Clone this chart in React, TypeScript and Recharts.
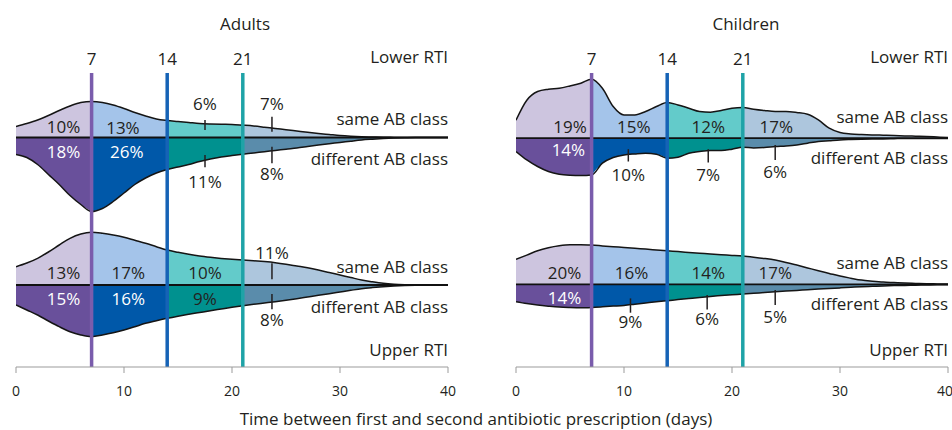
import React from "react";
import {
  ComposedChart,
  Area,
  Line,
  XAxis,
  YAxis,
  ReferenceLine,
  ReferenceDot,
} from "recharts";

// days since first prescription
const days = [
  0, 1, 2, 3, 4, 5, 6, 7, 8, 9, 10, 11, 12, 13, 14, 15, 16, 17, 18, 19, 20,
  21, 22, 23, 24, 25, 26, 27, 28, 29, 30, 31, 32, 33, 34, 35, 36, 37, 38, 39, 40,
];
const xTicks = [0, 10, 20, 30, 40];
const cutoffs = [7, 14, 21];

// density (violin half heights)
const adultsLowerSame = [
  11, 14, 17.5, 22, 27, 31.5, 35, 36, 35, 32.5, 29, 25, 21.5, 18.5, 17, 16, 15,
  14, 13.5, 13.2, 13, 12.3, 11.5, 10.3, 9, 7.8, 6.5, 5.2, 4, 3, 2, 1.3, 0.8,
  0.5, 0.2, 0.1, 0, 0, 0, 0, 0,
];
const adultsLowerDiff = [
  17, 20, 27, 37, 47, 58, 67, 74, 71, 64, 55.5, 47, 40.5, 35.5, 32, 29.5, 27,
  24, 21.5, 19.5, 18, 16.7, 15.5, 14.2, 13, 11.7, 10.5, 9, 7.5, 6.2, 5, 3.7,
  2.5, 1.7, 1, 0.5, 0.2, 0, 0, 0, 0,
];
const adultsUpperSame = [
  18.3, 22, 26.7, 33, 40, 46.7, 51, 52.7, 51.7, 50, 47.7, 44.7, 41.7, 38.3, 35,
  32.7, 30.7, 29, 27.7, 26.6, 25.7, 25, 24.3, 23.4, 22.3, 20.8, 19, 17.2, 15,
  12.5, 10, 7.5, 5, 3.2, 1.7, 0.8, 0.3, 0, 0, 0, 0,
];
const adultsUpperDiff = [
  20, 25, 30, 36, 41.7, 46.7, 50, 51.7, 50, 47.8, 45, 41.7, 38.3, 35.7, 33.3,
  31.2, 29.3, 27.5, 25.7, 24, 22.3, 20.8, 19.3, 18, 16.7, 15.2, 13.7, 12, 10.3,
  8.7, 7, 5.3, 3.7, 2.6, 1.7, 1, 0.5, 0.2, 0, 0, 0,
];
const childrenLowerSame = [
  18, 38, 46.7, 49, 50, 52.3, 55, 59, 50, 31.7, 23.3, 23.3, 26.7, 31.7, 35.7,
  33.3, 30, 26.7, 26, 27.7, 30, 30.7, 29, 27.7, 26.7, 26.7, 25.7, 24, 18.3, 10,
  5.7, 4.3, 3.7, 3.3, 3, 2.7, 2.3, 2, 1.7, 1.2, 0.7,
];
const childrenLowerDiff = [
  13.3, 21.7, 28.3, 33.3, 36, 37, 37.3, 36.7, 25, 19.3, 16.7, 15.7, 15, 16, 20,
  19, 15, 13.3, 12.3, 12.3, 11, 9, 9.7, 9.3, 8.3, 7.7, 6.7, 5, 3.3, 2.5, 1.7,
  1.3, 1, 0.8, 0.7, 0.5, 0.3, 0.3, 0.3, 0.3, 0.3,
];
const childrenUpperSame = [
  25, 29.3, 33.7, 36.7, 38.7, 39.7, 39.7, 39.3, 38.5, 37.7, 37, 36.2, 35.3,
  34.5, 33.7, 32.8, 32, 31.2, 30.3, 29.6, 29, 28.3, 27.2, 25.9, 24.3, 22, 19.3,
  16.5, 13.7, 11, 8.3, 6.2, 4.3, 3.2, 2.3, 1.8, 1.3, 1, 0.7, 0.5, 0.3,
];
const childrenUpperDiff = [
  17.3, 19.2, 20.7, 21.8, 22.7, 23.1, 23.3, 23, 22.4, 21.7, 21, 19.8, 18.6,
  17.4, 16.3, 15.2, 14.1, 13, 12, 11.2, 10.4, 9.7, 8.9, 8.1, 7.3, 6.6, 6, 5.3,
  4.7, 4.1, 3.5, 2.9, 2.3, 1.9, 1.5, 1.2, 1, 0.8, 0.6, 0.4, 0.3,
];

// share of prescriptions per window (0-7, 7-14, 14-21, >21)
const adultsLowerSamePct = ["10%", "13%", "6%", "7%"];
const adultsLowerDiffPct = ["18%", "26%", "11%", "8%"];
const adultsUpperSamePct = ["13%", "17%", "10%", "11%"];
const adultsUpperDiffPct = ["15%", "16%", "9%", "8%"];
const childrenLowerSamePct = ["19%", "15%", "12%", "17%"];
const childrenLowerDiffPct = ["14%", "10%", "7%", "6%"];
const childrenUpperSamePct = ["20%", "16%", "14%", "17%"];
const childrenUpperDiffPct = ["14%", "9%", "6%", "5%"];

const FONT = "'Open Sans', 'Noto Sans', sans-serif";
const INK = "#231f20";
const SEGMENTS: [number, number][] = [
  [0, 7],
  [7, 14],
  [14, 21],
  [21, 40],
];
const sameFills = ["#cdc5df", "#a4c4ea", "#63cbca", "#adc6dd"];
const diffFills = ["#69509b", "#0058a9", "#00918f", "#5a8cab"];
const cutoffColors = ["#7a5cac", "#1663b6", "#1fa3a7"];

type Spot = { x: number; dy: number; tick?: [number, number]; white?: boolean };

type Violin = {
  same: number[];
  diff: number[];
  base: number;
  samePct: string[];
  diffPct: string[];
  sameSpots: Spot[];
  diffSpots: Spot[];
  sideSame: number;
  sideDiff: number;
};

const W = 476;
const H = 430;
const PLOT_H = 294;

function buildRows(violins: Violin[]) {
  return days.map((d, i) => {
    const row: Record<string, any> = { day: d };
    violins.forEach((v, vi) => {
      SEGMENTS.forEach(([a, b], k) => {
        const inside = d >= a && d <= b;
        row[`s${vi}_${k}`] = inside ? [v.base, v.base + v.same[i]] : null;
        row[`d${vi}_${k}`] = inside ? [v.base - v.diff[i], v.base] : null;
      });
      row[`top${vi}`] = v.base + v.same[i];
      row[`bot${vi}`] = v.base - v.diff[i];
    });
    return row;
  });
}

function pctLabel(key: string, x: number, y: number, text: string, color: string) {
  return (
    <ReferenceDot
      key={key}
      x={x}
      y={y}
      r={0}
      fill="none"
      stroke="none"
      label={{ value: text, position: "center", fill: color, fontSize: 17, fontFamily: FONT }}
    />
  );
}

function Panel({ violins, margin }: { violins: Violin[]; margin: any }) {
  const rows = buildRows(violins);
  const areas: React.ReactNode[] = [];
  const outlines: React.ReactNode[] = [];
  const notes: React.ReactNode[] = [];

  violins.forEach((v, vi) => {
    SEGMENTS.forEach((_, k) => {
      areas.push(
        <Area
          key={`s${vi}_${k}`}
          dataKey={`s${vi}_${k}`}
          type="monotone"
          fill={sameFills[k]}
          fillOpacity={1}
          stroke="none"
          isAnimationActive={false}
          activeDot={false}
        />,
        <Area
          key={`d${vi}_${k}`}
          dataKey={`d${vi}_${k}`}
          type="monotone"
          fill={diffFills[k]}
          fillOpacity={1}
          stroke="none"
          isAnimationActive={false}
          activeDot={false}
        />
      );
    });
    outlines.push(
      <Line
        key={`top${vi}`}
        dataKey={`top${vi}`}
        type="monotone"
        stroke="#151515"
        strokeWidth={1.5}
        dot={false}
        activeDot={false}
        isAnimationActive={false}
      />,
      <Line
        key={`bot${vi}`}
        dataKey={`bot${vi}`}
        type="monotone"
        stroke="#151515"
        strokeWidth={1.5}
        dot={false}
        activeDot={false}
        isAnimationActive={false}
      />,
      <ReferenceLine key={`mid${vi}`} y={v.base} stroke="#111" strokeWidth={1.8} />
    );

    const addNotes = (spots: Spot[], pct: string[], tag: string) => {
      spots.forEach((s, k) => {
        if (s.tick) {
          notes.push(
            <ReferenceLine
              key={`t${tag}${vi}_${k}`}
              segment={[
                { x: s.x, y: v.base + s.tick[0] },
                { x: s.x, y: v.base + s.tick[1] },
              ]}
              stroke={INK}
              strokeWidth={1.5}
            />
          );
        }
        notes.push(
          pctLabel(`p${tag}${vi}_${k}`, s.x, v.base + s.dy, pct[k], s.white ? "#ffffff" : INK)
        );
      });
    };
    addNotes(v.sameSpots, v.samePct, "s");
    addNotes(v.diffSpots, v.diffPct, "d");

    notes.push(
      <ReferenceDot
        key={`side_s${vi}`}
        x={40}
        y={v.base + v.sideSame}
        r={0}
        fill="none"
        stroke="none"
        label={{ value: "same AB class", position: "left", offset: 0, fill: INK, fontSize: 17, fontFamily: FONT }}
      />,
      <ReferenceDot
        key={`side_d${vi}`}
        x={40}
        y={v.base + v.sideDiff}
        r={0}
        fill="none"
        stroke="none"
        label={{ value: "different AB class", position: "left", offset: 0, fill: INK, fontSize: 17, fontFamily: FONT }}
      />
    );
  });

  return (
    <ComposedChart width={W} height={H} data={rows} margin={margin}>
      <XAxis
        dataKey="day"
        type="number"
        domain={[0, 40]}
        ticks={xTicks}
        tickSize={6}
        tickMargin={13}
        height={30}
        stroke="#9b9b9b"
        tick={{ fontSize: 14, fill: INK, fontFamily: FONT }}
        allowDataOverflow
      />
      <YAxis type="number" domain={[0, PLOT_H]} hide allowDataOverflow />
      {areas}
      {outlines}
      {cutoffs.map((c, i) => (
        <ReferenceLine
          key={`c${c}`}
          x={c}
          stroke={cutoffColors[i]}
          strokeWidth={3.5}
          label={{ value: String(c), position: "top", offset: 8, fill: INK, fontSize: 17, fontFamily: FONT }}
        />
      ))}
      {notes}
    </ComposedChart>
  );
}

const adults: Violin[] = [
  {
    same: adultsLowerSame,
    diff: adultsLowerDiff,
    base: 229.5,
    samePct: adultsLowerSamePct,
    diffPct: adultsLowerDiffPct,
    sameSpots: [
      { x: 4.4, dy: 10.8 },
      { x: 9.9, dy: 10 },
      { x: 17.5, dy: 34, tick: [7.5, 17.5] },
      { x: 23.7, dy: 34, tick: [5.8, 20.8] },
    ],
    diffSpots: [
      { x: 4.4, dy: -14, white: true },
      { x: 10.25, dy: -14, white: true },
      { x: 17.5, dy: -44, tick: [-17.5, -29.8] },
      { x: 23.7, dy: -36.5, tick: [-9.2, -25.8] },
    ],
    sideSame: 18.5,
    sideDiff: -21.5,
  },
  {
    same: adultsUpperSame,
    diff: adultsUpperDiff,
    base: 82,
    samePct: adultsUpperSamePct,
    diffPct: adultsUpperDiffPct,
    sameSpots: [
      { x: 4.4, dy: 12.3 },
      { x: 10.4, dy: 12.3 },
      { x: 17.5, dy: 12.3 },
      { x: 23.7, dy: 31.7, tick: [5.7, 21.7] },
    ],
    diffSpots: [
      { x: 4.4, dy: -14.3, white: true },
      { x: 10.4, dy: -14.3, white: true },
      { x: 17.5, dy: -14.3 },
      { x: 23.7, dy: -35, tick: [-9, -24.3] },
    ],
    sideSame: 18.3,
    sideDiff: -22.3,
  },
];

const children: Violin[] = [
  {
    same: childrenLowerSame,
    diff: childrenLowerDiff,
    base: 228.8,
    samePct: childrenLowerSamePct,
    diffPct: childrenLowerDiffPct,
    sameSpots: [
      { x: 5.0, dy: 11.7 },
      { x: 10.9, dy: 11.7 },
      { x: 17.8, dy: 11.7 },
      { x: 24.1, dy: 11.7 },
    ],
    diffSpots: [
      { x: 4.85, dy: -11.7, white: true },
      { x: 10.4, dy: -36.7, tick: [-11, -23.3] },
      { x: 17.8, dy: -36.7, tick: [-11, -24.3] },
      { x: 24, dy: -33.3, tick: [-6.7, -21.7] },
    ],
    sideSame: 21,
    sideDiff: -19.4,
  },
  {
    same: childrenUpperSame,
    diff: childrenUpperDiff,
    base: 82.6,
    samePct: childrenUpperSamePct,
    diffPct: childrenUpperDiffPct,
    sameSpots: [
      { x: 4.5, dy: 11.7 },
      { x: 10.7, dy: 11.7 },
      { x: 17.8, dy: 11.7 },
      { x: 24, dy: 11.7 },
    ],
    diffSpots: [
      { x: 4.5, dy: -14, white: true },
      { x: 10.6, dy: -37.3, tick: [-14, -28.3] },
      { x: 17.7, dy: -35, tick: [-10.7, -25] },
      { x: 24, dy: -33, tick: [-5.7, -20.7] },
    ],
    sideSame: 21,
    sideDiff: -19.7,
  },
];

function Txt({ x, y, children, align = "center" }: { x: number; y: number; children: React.ReactNode; align?: "center" | "right" }) {
  const style: React.CSSProperties = {
    position: "absolute",
    top: y - 11,
    height: 22,
    lineHeight: "22px",
    fontFamily: FONT,
    fontSize: 17,
    color: INK,
    whiteSpace: "nowrap",
  };
  if (align === "center") {
    style.left = x - 300;
    style.width = 600;
    style.textAlign = "center";
  } else {
    style.right = 952 - x;
    style.textAlign = "right";
  }
  return <div style={style}>{children}</div>;
}

export default function App() {
  return (
    <div style={{ position: "absolute", left: 0, top: 0, width: 952, height: 430, background: "#fff", overflow: "hidden" }}>
      <div style={{ position: "absolute", left: 0, top: 0 }}>
        <Panel violins={adults} margin={{ top: 73, right: 28, bottom: 33, left: 16 }} />
      </div>
      <div style={{ position: "absolute", left: 476, top: 0 }}>
        <Panel violins={children} margin={{ top: 73, right: 4, bottom: 33, left: 40 }} />
      </div>
      <Txt x={245} y={24}>Adults</Txt>
      <Txt x={746} y={24}>Children</Txt>
      <Txt x={448} y={57} align="right">Lower RTI</Txt>
      <Txt x={948} y={57} align="right">Lower RTI</Txt>
      <Txt x={448} y={350} align="right">Upper RTI</Txt>
      <Txt x={948} y={350} align="right">Upper RTI</Txt>
      <Txt x={476} y={419}>Time between first and second antibiotic prescription (days)</Txt>
    </div>
  );
}
